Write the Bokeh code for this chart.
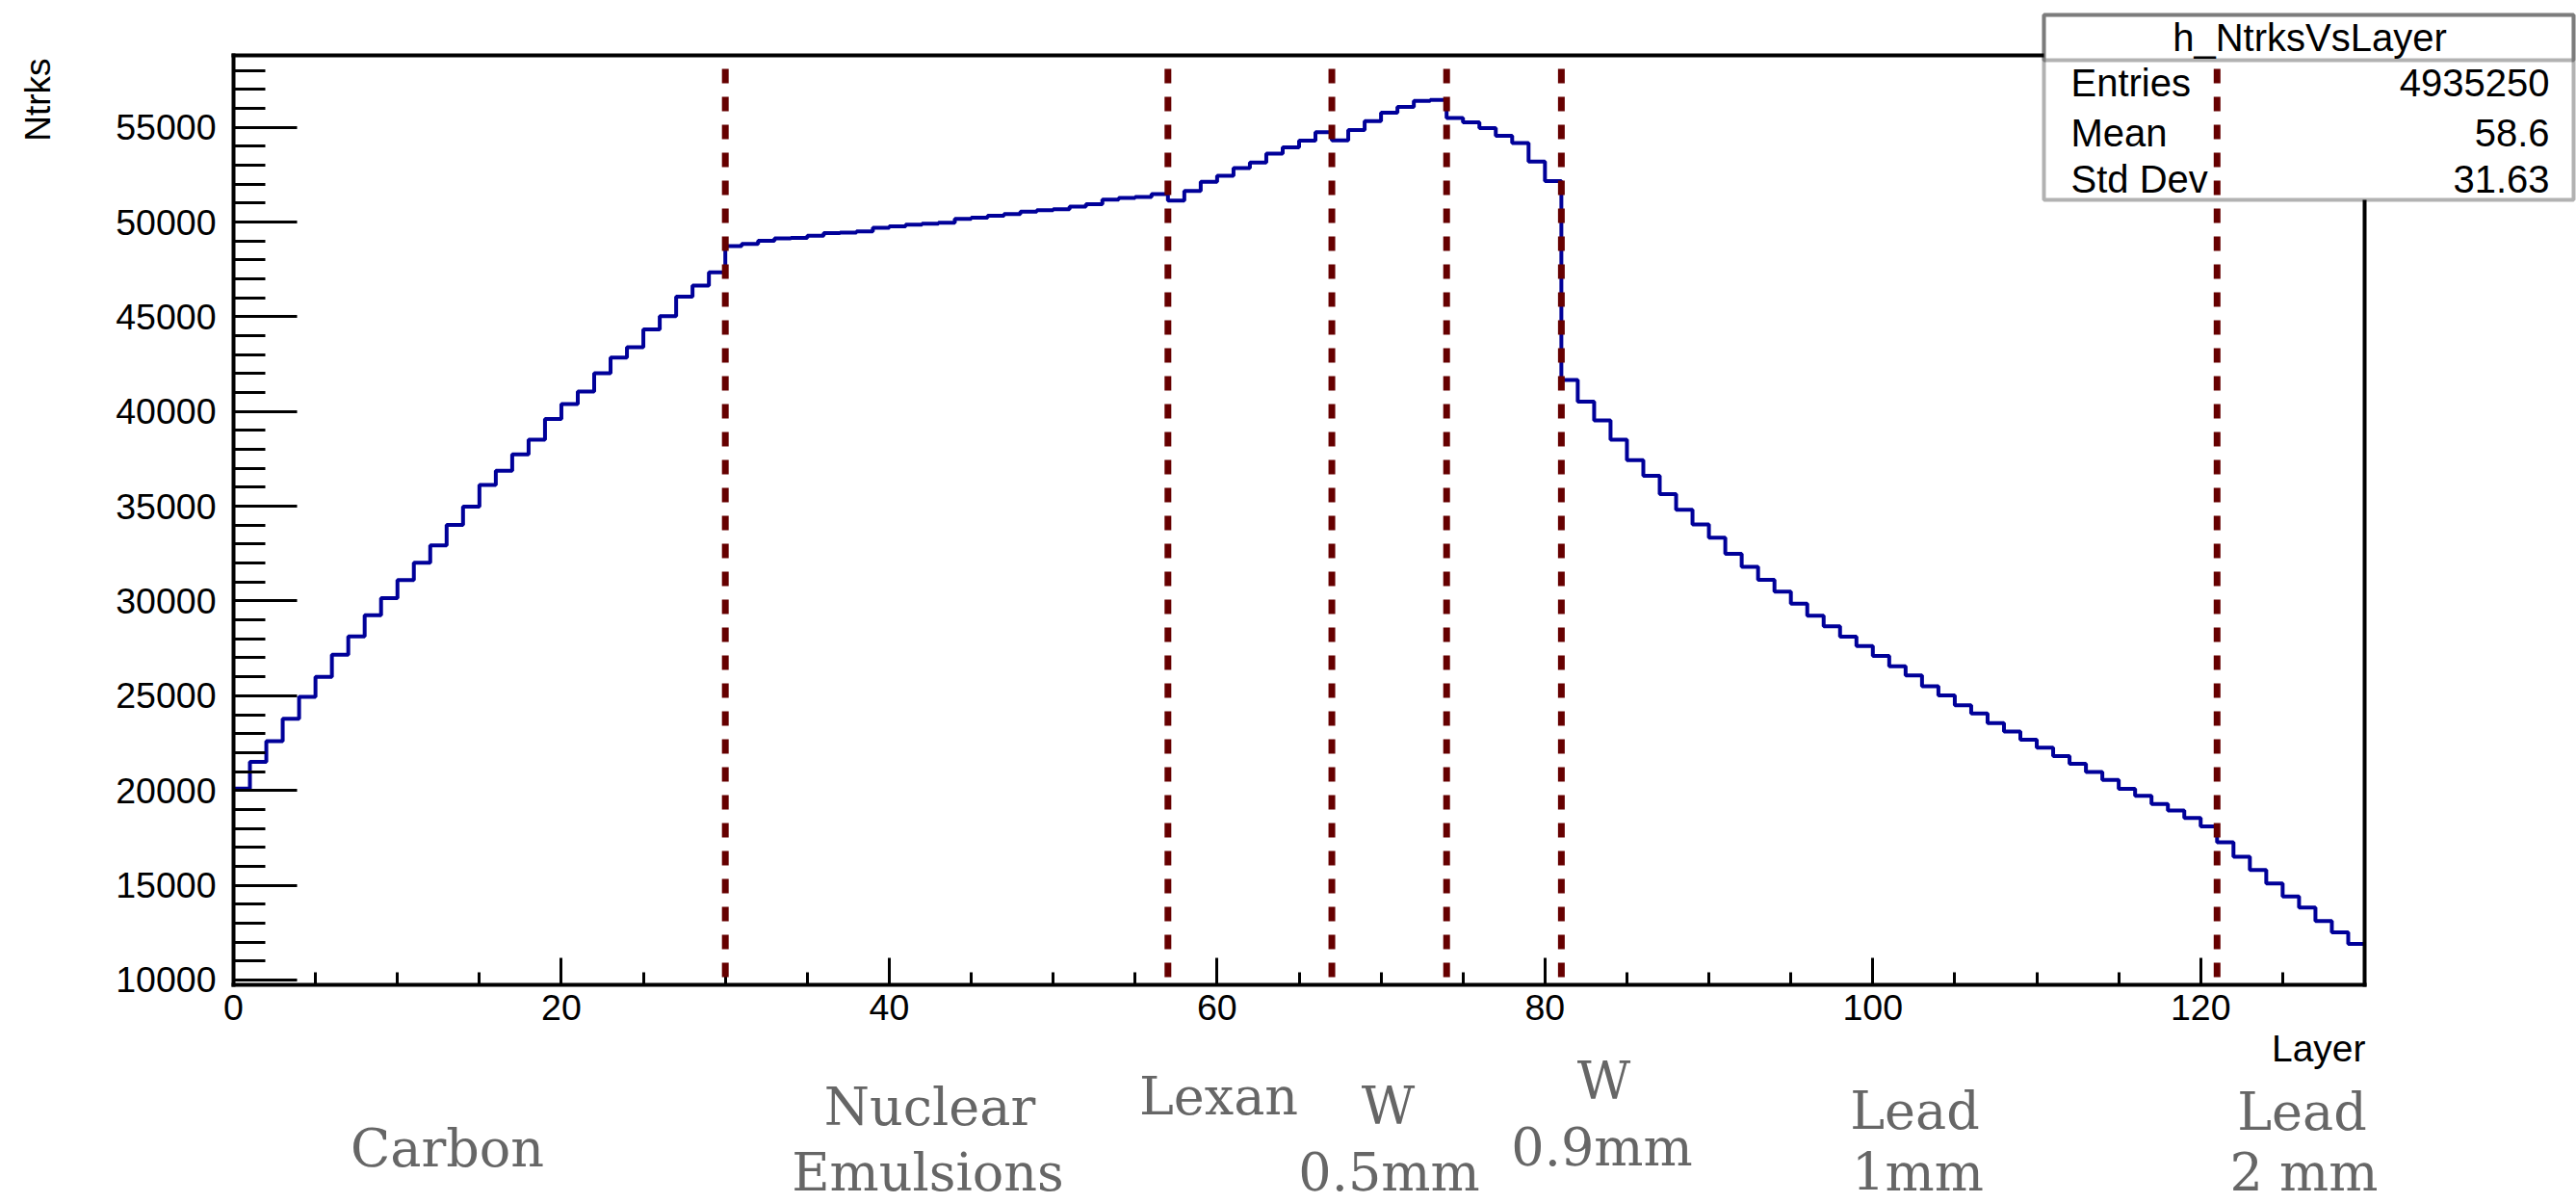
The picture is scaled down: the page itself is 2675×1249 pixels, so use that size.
import numpy as np
from bokeh.plotting import figure
from bokeh.models import (LinearAxis, SingleIntervalTicker, FixedTicker,
                          Label, BoxAnnotation, Range1d, BasicTickFormatter)
from bokeh.embed import file_html
from bokeh.resources import INLINE

# ---------------- data ----------------
layer_lo, layer_hi = 0, 130
ntrks = [
    20100, 21510, 22600, 23790, 24940, 26000, 27170, 28130, 29250, 30150,
    31110, 32020, 32930, 34020, 34980, 36130, 36880, 37740, 38520, 39610,
    40390, 41060, 42020, 42850, 43400, 44330, 45030, 46070, 46650, 47350,
    48740, 48850, 49010, 49140, 49160, 49280, 49420, 49450, 49510, 49700,
    49770, 49870, 49920, 49970, 50170, 50230, 50340, 50430, 50550, 50630,
    50680, 50820, 50940, 51190, 51280, 51330, 51480,
    51140, 51650, 52130, 52450, 52850, 53140, 53620, 53940, 54300, 54740,
    54310, 54860, 55330, 55770, 56080, 56400, 56450,
    55500, 55270, 54960, 54560, 54170, 53200, 52170,
    41670, 40520, 39530, 38520, 37440, 36610, 35640, 34820, 34040, 33340,
    32490, 31810, 31120, 30500, 29860, 29220, 28660, 28120, 27620, 27100,
    26560, 26070, 25500, 25020, 24500, 24060, 23560, 23110, 22680, 22260,
    21820, 21410, 20970, 20560, 20090, 19720, 19290, 18940, 18550, 18100,
    17260, 16500, 15800, 15090, 14410, 13820, 13110, 12510, 11900,
]
boundaries = [30, 57, 67, 74, 81, 121]
y_lo, y_hi = 9740, 58800

stats_name = "h_NtrksVsLayer"
stats_keys = ["Entries", "Mean", "Std Dev"]
stats_vals = ["4935250", "58.6", "31.63"]

material_texts = ["Carbon", "Nuclear", "Emulsions", "Lexan", "W", "0.5mm",
                  "W", "0.9mm", "Lead", "1mm", "Lead", "2 mm"]

# ---------------- layout (pixels on the canvas) ----------------
W, H = 2675, 1249
FL, FR, FT, FB = 242, 2455, 57, 1022      # histogram frame on the canvas

# centre x, baseline y of the material annotations
material_pos = [(464, 1208), (965, 1165), (963, 1233), (1265, 1154),
                (1441, 1164), (1442, 1233), (1665, 1138), (1663, 1207),
                (1988, 1169), (1991, 1233), (2390, 1170), (2392, 1233)]

BASE_FIX = 0.3   # alphabetic-baseline correction (fraction of the font size)


def dx(px):
    return layer_lo + (px - FL) * (layer_hi - layer_lo) / (FR - FL)


def dy(py):
    return y_lo + (FB - py) * (y_hi - y_lo) / (FB - FT)


def by(py, fs):
    return dy(py - BASE_FIX * fs)


SANS = "Liberation Sans"

p = figure(width=W, height=H, output_backend="svg", toolbar_location=None,
           x_range=Range1d(dx(0), dx(W)), y_range=Range1d(dy(H), dy(0)),
           x_axis_type=None, y_axis_type=None, min_border=0)
p.xgrid.visible = False
p.ygrid.visible = False
p.outline_line_color = None
p.background_fill_color = "white"
p.border_fill_color = "white"

TICK_FS = "37.5px"

# x axis
xa = LinearAxis(fixed_location=y_lo, bounds=(layer_lo, layer_hi),
                ticker=SingleIntervalTicker(interval=20, num_minor_ticks=4))
xa.major_tick_in = 28
xa.major_tick_out = 0
xa.minor_tick_in = 13
xa.minor_tick_out = 0
xa.axis_line_width = 4
xa.axis_line_cap = "square"
xa.major_tick_line_width = 3
xa.minor_tick_line_width = 3
xa.major_label_text_font = SANS
xa.major_label_text_font_size = TICK_FS
xa.major_label_text_color = "black"
xa.major_label_standoff = 10
p.add_layout(xa, "below")

# y axis
ya = LinearAxis(fixed_location=layer_lo, bounds=(y_lo, y_hi),
                ticker=SingleIntervalTicker(interval=5000, num_minor_ticks=5),
                formatter=BasicTickFormatter(use_scientific=False))
ya.major_tick_in = 66
ya.major_tick_out = 0
ya.minor_tick_in = 33
ya.minor_tick_out = 0
ya.axis_line_width = 4
ya.axis_line_cap = "square"
ya.major_tick_line_width = 3
ya.minor_tick_line_width = 3
ya.major_label_text_font = SANS
ya.major_label_text_font_size = TICK_FS
ya.major_label_text_color = "black"
ya.major_label_standoff = 18
p.add_layout(ya, "left")

# top and right frame lines
top = LinearAxis(fixed_location=y_hi, bounds=(layer_lo, layer_hi),
                 ticker=FixedTicker(ticks=[]), axis_line_width=4,
                 axis_line_cap="square", major_label_text_font_size="0px",
                 major_tick_in=0, major_tick_out=0, minor_tick_in=0, minor_tick_out=0)
p.add_layout(top, "above")
right = LinearAxis(fixed_location=layer_hi, bounds=(y_lo, y_hi),
                   ticker=FixedTicker(ticks=[]), axis_line_width=4,
                   axis_line_cap="square", major_label_text_font_size="0px",
                   major_tick_in=0, major_tick_out=0, minor_tick_in=0, minor_tick_out=0)
p.add_layout(right, "right")

# histogram outline
edges = np.arange(layer_lo, layer_hi + 1)
ys = list(ntrks) + [ntrks[-1]]
p.step(edges, ys, mode="after", line_color="#000099", line_width=4)

# stats box (white, covers the frame corner)
p.add_layout(BoxAnnotation(left=dx(2122), right=dx(2672), top=dy(15), bottom=dy(207),
                           fill_color="white", fill_alpha=1.0,
                           line_color="black", line_width=4, level="annotation"))
p.add_layout(BoxAnnotation(left=dx(2122), right=dx(2672), top=dy(15), bottom=dy(62),
                           fill_alpha=0.0, line_color="black", line_width=4,
                           level="annotation"))

# material boundaries (dashed, drawn over the stats box)
p.segment(x0=boundaries, y0=[y_hi] * len(boundaries),
          x1=boundaries, y1=[y_lo] * len(boundaries),
          line_color="#660000", line_width=7, line_dash="15 14",
          line_dash_offset=15, level="overlay")

# stats texts
SFS = 40
p.add_layout(Label(x=dx(2398), y=by(50, SFS), text=stats_name, text_font=SANS,
                   text_font_size=f"{SFS}px", text_color="black", text_align="center",
                   text_baseline="alphabetic", level="overlay"))
for i, (k, v) in enumerate(zip(stats_keys, stats_vals)):
    base = [97, 149, 197][i]
    p.add_layout(Label(x=dx(2150), y=by(base, SFS), text=k, text_font=SANS,
                       text_font_size=f"{SFS}px", text_color="black", text_align="left",
                       text_baseline="alphabetic", level="overlay"))
    p.add_layout(Label(x=dx(2647), y=by(base, SFS), text=v, text_font=SANS,
                       text_font_size=f"{SFS}px", text_color="black", text_align="right",
                       text_baseline="alphabetic", level="overlay"))

# axis titles
p.add_layout(Label(x=dx(50 - BASE_FIX * 37), y=dy(60), text="Ntrks", angle=np.pi / 2,
                   text_font=SANS, text_font_size="37px", text_color="black",
                   text_align="right", text_baseline="alphabetic", level="overlay"))
p.add_layout(Label(x=dx(2456), y=by(1100, 39), text="Layer",
                   text_font=SANS, text_font_size="39px", text_color="black",
                   text_align="right", text_baseline="alphabetic", level="overlay"))

# material annotations
MFS = 54
for t, (cx, bl) in zip(material_texts, material_pos):
    p.add_layout(Label(x=dx(cx), y=by(bl, MFS), text=t, text_font="DejaVu Serif",
                       text_font_size=f"{MFS}px", text_color="#666666",
                       text_align="center", text_baseline="alphabetic",
                       level="overlay"))

open("out.html", "w").write(file_html(p, INLINE))
